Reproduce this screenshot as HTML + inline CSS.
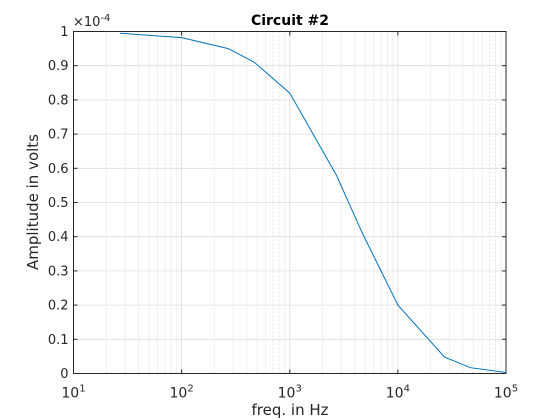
<!DOCTYPE html>
<html><head><meta charset="utf-8"><style>body{margin:0;background:#fff}svg{display:block}</style></head>
<body>
<svg id="c" width="560" height="420" xmlns="http://www.w3.org/2000/svg" font-family="DejaVu Sans, Liberation Sans, sans-serif"></svg>
<script>
const freqs=[27,100,270,470,1000,2700,4700,10000,27000,47000,100000];
const amps=[0.995,0.982,0.95,0.91,0.82,0.58,0.41,0.2,0.048,0.017,0.003];
const yTicks=[0,0.1,0.2,0.3,0.4,0.5,0.6,0.7,0.8,0.9,1];
const xDecades=[1,2,3,4,5];
const L=73.5,R=506,T=31.5,B=373.5;
const X=f=>L+(Math.log10(f)-1)/4*(R-L);
const Y=v=>B-v*(B-T);
const s=document.getElementById('c');const NS='http://www.w3.org/2000/svg';
function mk(t,a,txt){const e=document.createElementNS(NS,t);for(const k in a)e.setAttribute(k,a[k]);if(txt!=null)e.textContent=txt;s.appendChild(e);return e;}
mk('rect',{x:L,y:T,width:R-L,height:B-T,fill:'#fff'});
for(let d=1;d<5;d++)for(let m=2;m<10;m++){const x=X(m*Math.pow(10,d));const g=mk('line',{x1:x,x2:x,y1:T,y2:B,stroke:'#dcdcdc','stroke-dasharray':'2,2','stroke-width':0.8});}
xDecades.forEach(d=>{const x=X(Math.pow(10,d));const g=mk('line',{x1:x,x2:x,y1:T,y2:B,stroke:'#dcdcdc','stroke-width':0.8});
const t=mk('text',{x:x,y:B+24,'text-anchor':'middle','font-size':14,fill:'#262626'});
t.innerHTML='10<tspan dy="-6" font-size="10">'+d+'</tspan>';
mk('line',{x1:x,x2:x,y1:B,y2:B-4,stroke:'#262626'});mk('line',{x1:x,x2:x,y1:T,y2:T+4,stroke:'#262626'});});
yTicks.forEach(v=>{const y=Y(v);const g=mk('line',{x1:L,x2:R,y1:y,y2:y,stroke:'#dcdcdc','stroke-width':0.8});
const t=mk('text',{x:L-5,y:y+4.5,'text-anchor':'end','font-size':13,fill:'#262626'},String(v));
mk('line',{x1:L,x2:L+4,y1:y,y2:y,stroke:'#262626'});mk('line',{x1:R,x2:R-4,y1:y,y2:y,stroke:'#262626'});});
const fr=mk('rect',{x:L,y:T,width:R-L,height:B-T,fill:'none',stroke:'#262626','stroke-width':1});
const p=mk('polyline',{points:freqs.map((f,i)=>X(f)+','+Y(amps[i])).join(' '),fill:'none',stroke:'#0072bd','stroke-width':1});

const ti=mk('text',{x:290,y:25,'text-anchor':'middle','font-size':14,'font-weight':'bold',fill:'#000'},'Circuit #2');
const xl=mk('text',{x:290,y:415,'text-anchor':'middle','font-size':15,fill:'#262626'},'freq. in Hz');
const yl=mk('text',{x:38,y:202,'text-anchor':'middle','font-size':15,fill:'#262626',transform:'rotate(-90 38 202)'},'Amplitude in volts');
const ex=mk('text',{x:73,y:26,'font-size':13,fill:'#262626'});ex.innerHTML='×10<tspan dy="-5" font-size="10">-4</tspan>';
</script>
</body></html>
